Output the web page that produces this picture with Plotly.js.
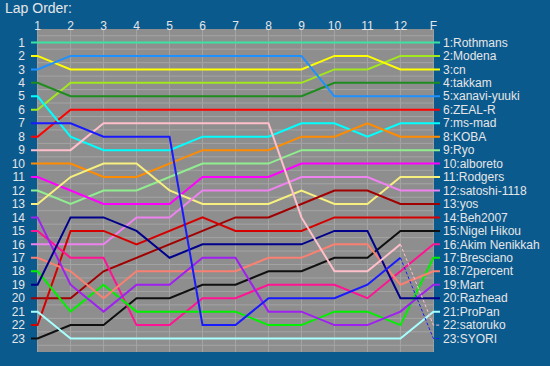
<!DOCTYPE html>
<html>
<head>
<meta charset="utf-8">
<script src="https://cdn.plot.ly/plotly-3.0.1.min.js"></script>
<style>
html,body{margin:0;padding:0;background:#0b5a8e;}
#chart{width:550px;height:366px;}
</style>
</head>
<body>
<div id="chart"></div>
<script>
// Lap columns (1..12, F) and final classification labels
const lapLabels = ['1','2','3','4','5','6','7','8','9','10','11','12','F'];
const finalLabels = ['1:Rothmans','2:Modena','3:cn','4:takkam','5:xanavi-yuuki','6:ZEAL-R',
  '7:ms-mad','8:KOBA','9:Ryo','10:alboreto','11:Rodgers','12:satoshi-1118','13:yos',
  '14:Beh2007','15:Nigel Hikou','16:Akim Nenikkah','17:Bresciano','18:72percent',
  '19:Mart','20:Razhead','21:ProPan','22:satoruko','23:SYORI'];

// Position of each driver at laps 1..12 and F
const posRothmans  = [1,1,1,1,1,1,1,1,1,1,1,1,1];
const posModena    = [6,4,4,4,4,4,4,4,4,3,3,2,2];
const posCn        = [2,3,3,3,3,3,3,3,3,2,2,3,3];
const posTakkam    = [4,5,5,5,5,5,5,5,5,4,4,4,4];
const posXanavi    = [3,2,2,2,2,2,2,2,2,5,5,5,5];
const posZealR     = [8,6,6,6,6,6,6,6,6,6,6,6,6];
const posMsMad     = [5,8,9,9,9,8,8,8,7,7,8,7,7];
const posKoba      = [10,10,11,11,10,9,9,9,8,8,7,8,8];
const posRyo       = [12,13,12,12,11,10,10,10,9,9,9,9,9];
const posAlboreto  = [11,12,13,13,13,11,11,11,10,10,10,10,10];
const posRodgers   = [13,11,10,10,12,13,13,13,12,13,13,11,11];
const posSatoshi   = [16,16,16,14,14,12,12,12,11,11,11,12,12];
const posYos       = [20,20,18,17,16,15,14,14,13,12,12,13,13];
const posBeh       = [22,15,15,16,15,14,15,15,15,14,14,14,14];
const posNigel     = [23,22,22,20,20,19,19,18,18,17,17,15,15];
const posAkim      = [15,17,17,22,22,20,20,19,19,19,20,18,16];
const posBresciano = [18,21,19,21,21,21,21,22,22,21,21,22,17];
const pos72percent = [17,18,20,18,18,18,18,17,17,16,16,19,18];
const posMart      = [14,19,21,19,19,17,17,21,21,22,22,21,19];
const posRazhead   = [19,14,14,15,17,16,16,16,16,15,15,20,20];
const posProPan    = [21,23,23,23,23,23,23,23,23,23,23,23,21];
const posSatoruko  = [9,9,7,7,7,7,7,7,14,18,18,16,22];
const posSyori     = [7,7,8,8,8,22,22,20,20,20,19,17,23];

const seriesPositions = [posRothmans,posModena,posCn,posTakkam,posXanavi,posZealR,posMsMad,
  posKoba,posRyo,posAlboreto,posRodgers,posSatoshi,posYos,posBeh,posNigel,posAkim,
  posBresciano,pos72percent,posMart,posRazhead,posProPan,posSatoruko,posSyori];
const retired = [false,false,false,false,false,false,false,false,false,false,false,false,
  false,false,false,false,false,false,false,false,false,true,true];

const colors = ['#3be3a2','#a2e81c','#ffff00','#1e8c1e','#1e90ff','#ff0000','#00ffff',
  '#ff8c00','#90ee90','#ff00ff','#f7f07e','#ee82ee','#a00000','#d40000','#101010',
  '#ff1493','#00f000','#fa8072','#a020f0','#00008b','#a8ffff','#ffc0cb','#1a1aff'];

const lapX = lapLabels.map((_, i) => i + 1);
const stub = 0.2;
const traces = [];
seriesPositions.forEach((p, k) => {
  const n = p.length;
  if (!retired[k]) {
    traces.push({
      x: [lapX[0] - stub].concat(lapX, [lapX[n-1] + stub]),
      y: [p[0]].concat(p, [p[n-1]]),
      mode: 'lines', type: 'scatter', hoverinfo: 'skip',
      line: {color: colors[k], width: 2}, showlegend: false
    });
  } else {
    traces.push({
      x: [lapX[0] - stub].concat(lapX.slice(0, n-1)),
      y: [p[0]].concat(p.slice(0, n-1)),
      mode: 'lines', type: 'scatter', hoverinfo: 'skip',
      line: {color: colors[k], width: 2}, showlegend: false
    });
    traces.push({
      x: [lapX[n-2], lapX[n-1], lapX[n-1] + stub],
      y: [p[n-2], p[n-1], p[n-1]],
      mode: 'lines', type: 'scatter', hoverinfo: 'skip',
      line: {color: colors[k], width: 1, dash: '3px,2px'}, showlegend: false
    });
  }
});

const nPos = finalLabels.length;
const posTicks = finalLabels.map((_, i) => i + 1);
const shapes = [{type:'rect', xref:'x', yref:'paper', x0:1, x1:lapX.length, y0:0, y1:1,
  fillcolor:'#8e8e8e', line:{width:0}, layer:'below'}];
lapX.forEach(v => shapes.push({type:'line', xref:'x', yref:'paper', x0:v, x1:v, y0:0, y1:1,
  line:{color:'#a4a4a4', width:1}, layer:'below'}));
for (let i = 0; i <= nPos; i++) {
  shapes.push({type:'line', xref:'x', yref:'y', x0:1, x1:lapX.length, y0:i+0.5, y1:i+0.5,
    line:{color:'#a4a4a4', width:1}, layer:'below'});
}

const fontCol = '#e6e6e6';
const layout = {
  width: 550, height: 366,
  paper_bgcolor: '#0b5a8e', plot_bgcolor: '#0b5a8e',
  margin: {l: 31.4, r: 110.4, t: 29, b: 13.5, pad: 0},
  title: {text: 'Lap Order:', x: 5/550, xanchor: 'left', xref: 'container',
          y: 1 - 8/366, yanchor: 'middle', yref: 'container',
          font: {family: 'Liberation Sans, Arial, sans-serif', size: 14, color: fontCol}},
  xaxis: {range: [1 - stub, lapX.length + stub], side: 'top', tickvals: lapX, ticktext: lapLabels,
          showgrid: false, zeroline: false, showline: false, ticks: '', fixedrange: true,
          ticklabelstandoff: -4,
          tickfont: {family: 'Liberation Sans, Arial, sans-serif', size: 12, color: fontCol}},
  yaxis: {range: [nPos + 1, 0], tickvals: posTicks, ticktext: posTicks.map(String),
          showgrid: false, zeroline: false, showline: false, ticks: '', ticklabelstandoff: 5,
          tickfont: {family: 'Liberation Sans, Arial, sans-serif', size: 12, color: fontCol}},
  yaxis2: {range: [nPos + 1, 0], overlaying: 'y', side: 'right', anchor: 'x',
          tickvals: posTicks, ticktext: finalLabels,
          showgrid: false, zeroline: false, showline: false, ticks: '', ticklabelstandoff: 2,
          tickfont: {family: 'Liberation Sans, Arial, sans-serif', size: 12, color: fontCol}},
  shapes: shapes,
  showlegend: false
};
// invisible helper trace so that the right-hand axis (final order labels) is drawn
traces.push({x: [1], y: [1], yaxis: 'y2', mode: 'lines', line: {width: 0}, hoverinfo: 'skip', showlegend: false});

Plotly.newPlot('chart', traces, layout, {staticPlot: true, displayModeBar: false});
</script>
</body>
</html>
